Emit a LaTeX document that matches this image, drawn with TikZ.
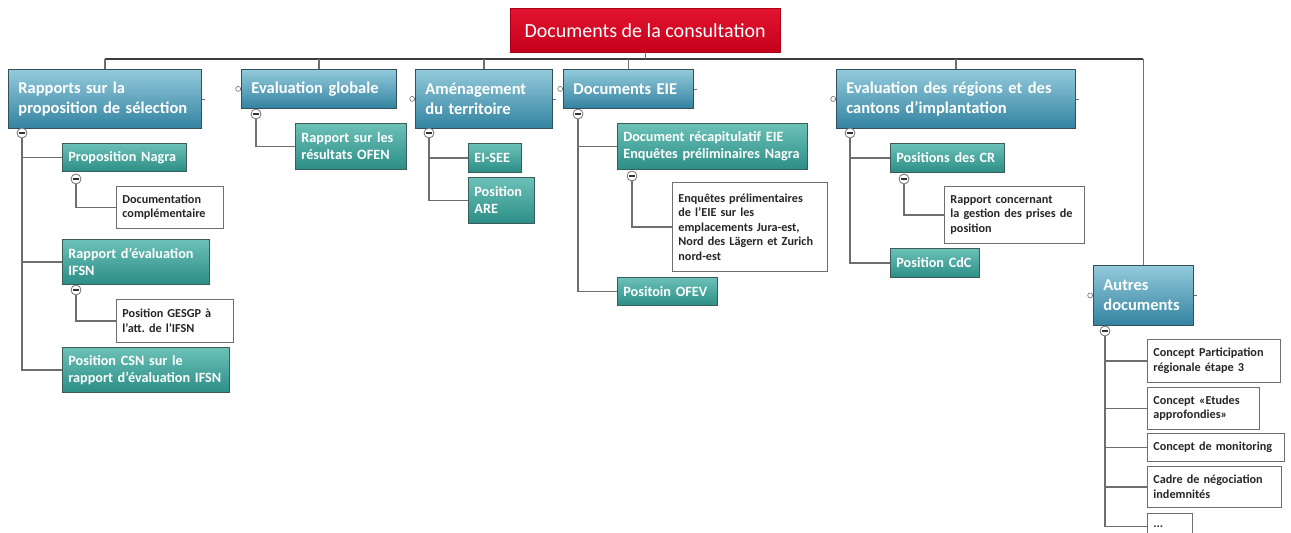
\documentclass[tikz,border=0pt]{standalone}
\usepackage{fontspec}
\setmainfont{Carlito}
\usetikzlibrary{positioning}
\frenchspacing

\definecolor{redtop}{HTML}{E3142F}
\definecolor{redbot}{HTML}{C4001B}
\definecolor{redline}{HTML}{A80018}
\definecolor{bluetop}{HTML}{93CADB}
\definecolor{bluebot}{HTML}{3383A1}
\definecolor{blueline}{HTML}{34505E}
\definecolor{tealtop}{HTML}{6CC1B8}
\definecolor{tealbot}{HTML}{2B8E86}
\definecolor{tealline}{HTML}{3C5C5A}
\definecolor{linegrey}{HTML}{6E6E6E}
\definecolor{bargrey}{HTML}{3C3C3C}

\begin{document}
\begin{tikzpicture}[x=1pt, y=-1pt]
  \tikzset{
    rootbox/.style={anchor=north west, top color=redtop, bottom color=redbot, draw=redline,
      text=white, minimum width=270pt, minimum height=44pt, align=center,
      font=\fontsize{20}{24}\selectfont},
    mainbox/.style={anchor=north west, top color=bluetop, bottom color=bluebot, draw=blueline,
      line width=0.8pt, text=white, inner xsep=10pt, inner ysep=2pt, align=left,
      font=\bfseries\fontsize{16.5}{20.5}\selectfont},
    subbox/.style={anchor=north west, top color=tealtop, bottom color=tealbot, draw=tealline,
      line width=0.8pt, text=white, inner xsep=6pt, inner ysep=2pt, align=left,
      font=\bfseries\fontsize{14.2}{17}\selectfont},
    leafbox/.style={anchor=north west, fill=white, draw=linegrey, line width=0.8pt,
      text=black!85, inner xsep=6pt, inner ysep=2pt, align=left,
      font=\bfseries\fontsize{12.2}{14.5}\selectfont},
    minus/.style={circle, draw=linegrey, fill=white, line width=0.8pt, minimum size=10pt,
      inner sep=0pt, path picture={\draw[line width=1.3pt, black!80]
        ([xshift=-2.6pt]path picture bounding box.center) --
        ([xshift=2.6pt]path picture bounding box.center);}},
    knob/.style={circle, draw=linegrey, fill=white, line width=0.6pt, minimum size=5pt, inner sep=0pt},
    link/.style={draw=linegrey, line width=1.3pt},
    bar/.style={draw=bargrey, line width=2.4pt}
  }
  \useasboundingbox (0,0) rectangle (1291,533);

  % root
  \node[rootbox] (doc) at (510,8) {Documents de la consultation};

  % main branches
  \node[mainbox, text width=173pt, minimum height=59pt] (rap) at (8,69) {Rapports sur la\\proposition de sélection};
  \node[mainbox, text width=135pt, minimum height=39pt] (glob) at (241,69) {Evaluation globale};
  \node[mainbox, text width=117pt, minimum height=59pt] (amen) at (415,69) {Aménagement\\du territoire};
  \node[mainbox, text width=110pt, minimum height=39pt] (eie) at (563,69) {Documents EIE};
  \node[mainbox, text width=219pt, minimum height=59pt] (reg) at (836,69) {Evaluation des régions et des\\cantons d'implantation};
  \node[mainbox, text width=80pt, minimum height=60pt] (autres) at (1093,265) {Autres\\documents};

  % bus
  \coordinate (bus) at (0,59);
  \draw[bar] (rap.north |- bus) -- (autres.north |- bus);
  \draw[link] (doc.south) -- (doc.south |- bus);
  \foreach \n in {rap, glob, amen, eie, reg, autres}
    \draw[link] (\n.north) -- (\n.north |- bus);

  % side knobs and stubs
  \foreach \n in {glob, amen, eie, reg, autres}
    \node[knob, left=0pt of \n] (\n-k) {};
  \foreach \n in {rap, amen, eie, reg, autres} {
    \coordinate[right=3pt of \n] (\n-e);
    \draw[link, line width=0.8pt] (\n) -- (\n-e);
  }

  % rapports
  \node[subbox, text width=112pt, minimum height=28pt] (nagra) at (62,143) {Proposition Nagra};
  \node[subbox, text width=135pt, minimum height=45pt] (ifsn) at (62,239) {Rapport d'évaluation\\IFSN};
  \node[subbox, text width=155pt, minimum height=45pt] (csn) at (62,347) {Position CSN sur le\\rapport d'évaluation IFSN};
  \node[leafbox, text width=95pt, minimum height=42pt] (compl) at (116,186) {Documentation\\complémentaire};
  \node[leafbox, text width=105pt, minimum height=43pt] (gesgp) at (116,299) {Position GESGP à\\l'att. de l'IFSN};
  \node[minus] (rap-m) at (22,133) {};
  \node[minus] (nagra-m) at (76,179) {};
  \node[minus] (ifsn-m) at (76,290) {};
  \draw[link] (rap-m) |- (nagra.west);
  \draw[link] (rap-m) |- (ifsn.west);
  \draw[link] (rap-m) |- (csn.west);
  \draw[link] (nagra-m) |- (compl.west);
  \draw[link] (ifsn-m) |- (gesgp.west);

  % evaluation globale
  \node[subbox, text width=99pt, minimum height=46pt] (ofen) at (295,123) {Rapport sur les\\résultats OFEN};
  \node[minus] (glob-m) at (256,114) {};
  \draw[link] (glob-m) |- (ofen.west);

  % amenagement
  \node[subbox, text width=41pt, minimum height=29pt] (eisee) at (468,143) {EI-SEE};
  \node[subbox, text width=54pt, minimum height=46pt] (are) at (468,177) {Position\\ARE};
  \node[minus] (amen-m) at (429,133) {};
  \draw[link] (amen-m) |- (eisee.west);
  \draw[link] (amen-m) |- (are.west);

  % documents EIE
  \node[subbox, text width=178pt, minimum height=46pt] (recap) at (617,123) {Document récapitulatif EIE\\Enquêtes préliminaires Nagra};
  \node[subbox, text width=88pt, minimum height=28pt] (ofev) at (617,277) {Positoin OFEV};
  \node[leafbox, text width=143pt, minimum height=89pt] (enq) at (672,182) {Enquêtes prélimentaires\\de l'EIE sur les\\emplacements Jura-est,\\Nord des Lägern et Zurich\\nord-est};
  \node[minus] (eie-m) at (578,114) {};
  \node[minus] (recap-m) at (632,176) {};
  \draw[link] (eie-m) |- (recap.west);
  \draw[link] (eie-m) |- (ofev.west);
  \draw[link] (recap-m) |- (enq.west);

  % regions
  \node[subbox, text width=102pt, minimum height=29pt] (cr) at (890,143) {Positions des CR};
  \node[subbox, text width=77pt, minimum height=29pt] (cdc) at (890,248) {Position CdC};
  \node[leafbox, text width=128pt, minimum height=57pt] (gest) at (944,186) {Rapport concernant\\la gestion des prises de\\position};
  \node[minus] (reg-m) at (850,133) {};
  \node[minus] (cr-m) at (904,179) {};
  \draw[link] (reg-m) |- (cr.west);
  \draw[link] (reg-m) |- (cdc.west);
  \draw[link] (cr-m) |- (gest.west);

  % autres documents
  \node[leafbox, text width=121pt, minimum height=43pt] (part) at (1147,339) {Concept Participation\\régionale étape 3};
  \node[leafbox, text width=100pt, minimum height=42pt] (etud) at (1147,387) {Concept «Etudes\\approfondies»};
  \node[leafbox, text width=125pt, minimum height=28pt] (monit) at (1147,433) {Concept de monitoring};
  \node[leafbox, text width=122pt, minimum height=41pt] (cadre) at (1147,466) {Cadre de négociation\\indemnités};
  \node[leafbox, text width=33pt, minimum height=26pt] (more) at (1147,513) {...};
  \node[minus] (autres-m) at (1105,331) {};
  \foreach \n in {part, etud, monit, cadre, more}
    \draw[link] (autres-m) |- (\n.west);
\end{tikzpicture}
\end{document}
